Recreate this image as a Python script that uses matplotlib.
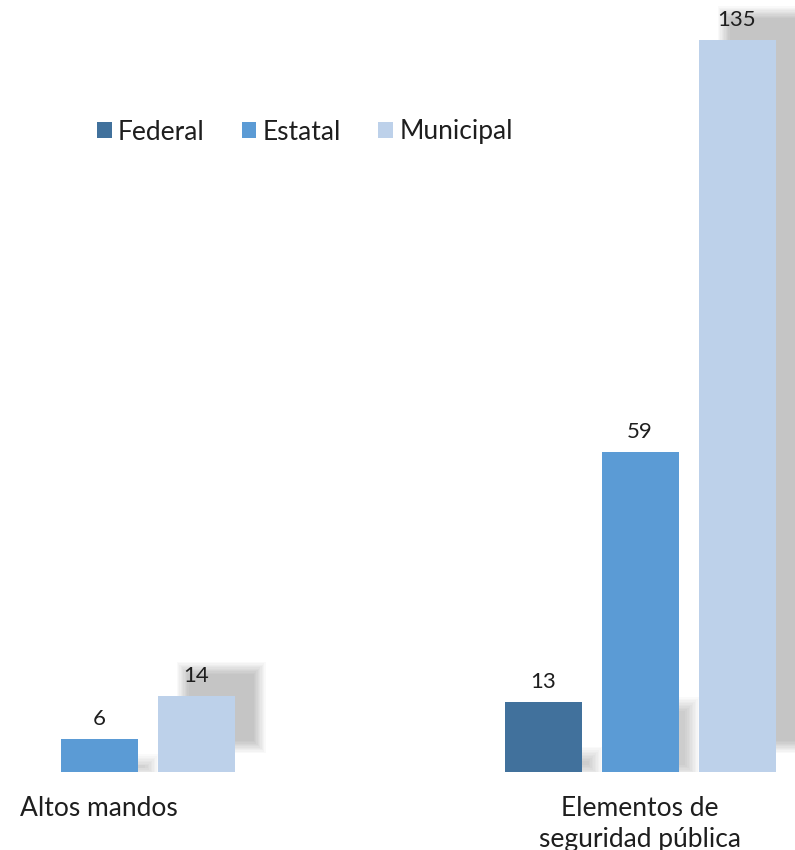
import matplotlib
matplotlib.use('Agg')
import matplotlib.pyplot as plt
from matplotlib.patches import Rectangle, Patch

# ---- data ----
categories = ["Altos mandos", "Elementos de\nseguridad pública"]
series_names = ["Federal", "Estatal", "Municipal"]
federal = [0, 13]
estatal = [6, 59]
municipal = [14, 135]
colors = ["#41719c", "#5b9bd5", "#bdd1ea"]

plt.rcParams['font.family'] = ['Lato', 'DejaVu Sans']
TEXT = "#1e1e1e"

W, H = 795, 850
fig = plt.figure(figsize=(W / 100, H / 100), dpi=100)
base_px = 772
ax = fig.add_axes([0, (H - base_px) / H, 1, base_px / H])

# pixel geometry of the plot -> data units
group_px = 541.0
step = 97 / group_px
width = 77 / group_px
x_left = -99 / group_px
ax.set_xlim(x_left, x_left + W / group_px)
px_per_unit = 5.42
ax.set_ylim(0, base_px / px_per_unit)
px_x = 1 / group_px
px_y = 1 / px_per_unit


def soft_rect(x0, x1, y0, y1, blur=6, layers=10, alpha=0.022):
    """Blurred gray rectangle built from stacked translucent layers."""
    for k in range(layers):
        e = blur - 2 * blur * k / (layers - 1)
        ax.add_patch(Rectangle((x0 - e * px_x, y0 - e * px_y),
                               (x1 - x0) + 2 * e * px_x, (y1 - y0) + 2 * e * px_y,
                               facecolor="black", edgecolor="none",
                               alpha=alpha, zorder=1))


all_series = [federal, estatal, municipal]

# drop shadows: municipal bars cast an up-right shadow, the others a small floor shadow
for i, vals in enumerate(all_series):
    for g, v in enumerate(vals):
        if v <= 0:
            continue
        x0 = g + (i - 1) * step - width / 2
        x1 = x0 + width
        if i == 2:
            soft_rect(x0 + 25 * px_x, x1 + 25 * px_x, 25 * px_y, v + 28 * px_y, blur=6)
        else:
            soft_rect(x1 - 12 * px_x, x1 + 14 * px_x, 0, v * 0.2 + 4 * px_y, blur=7,
                      alpha=0.018)

for i, vals in enumerate(all_series):
    xs = [g + (i - 1) * step for g in range(len(categories))]
    bars = ax.bar(xs, vals, width=width, color=colors[i], zorder=3)
    for b, v in zip(bars, vals):
        if v > 0:
            ax.text(b.get_x() + b.get_width() / 2, v + 10 * px_y, str(v),
                    ha='center', va='bottom', fontsize=16, color=TEXT, zorder=4)

ax.set_xticks(range(len(categories)))
ax.set_xticklabels(categories, fontsize=19, color=TEXT, linespacing=1.3)
ax.tick_params(axis='x', length=0, pad=17)
ax.set_yticks([])
for s in ax.spines.values():
    s.set_visible(False)

handles = [Patch(facecolor=c, edgecolor='none') for c in colors]
ax.legend(handles, series_names, loc='center left',
          bbox_to_anchor=(97 / W, 1 - 132 / base_px), ncol=3, frameon=False,
          fontsize=19, handlelength=0.55, handleheight=0.55, handletextpad=0.25,
          columnspacing=1.4, borderpad=0, borderaxespad=0,
          labelcolor=TEXT)

fig.savefig("out.png", dpi=100)
